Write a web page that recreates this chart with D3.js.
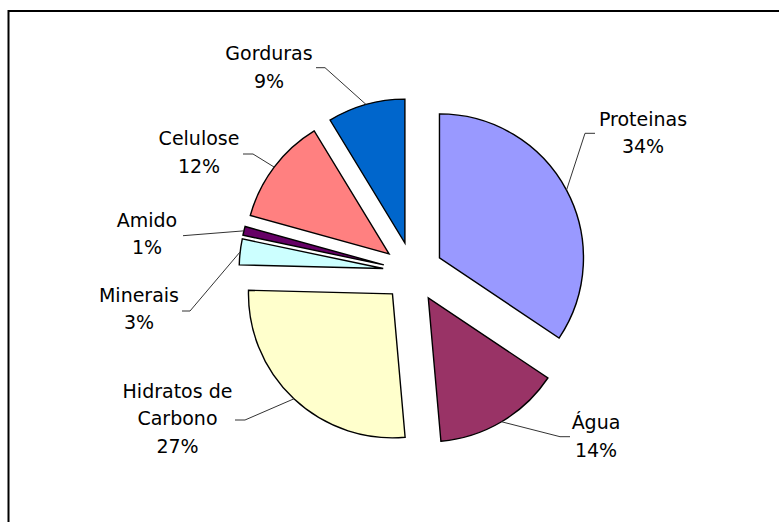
<!DOCTYPE html>
<html>
<head>
<meta charset="utf-8">
<script src="https://cdn.jsdelivr.net/npm/d3@7"></script>
<style>
  body { margin: 0; background: #fff; }
  text { font-family: "DejaVu Sans", Verdana, sans-serif; font-size: 19px; fill: #000; }
</style>
</head>
<body>
<svg id="piechart" width="779" height="522"></svg>
<script>
// data (shares)
let categories = ["Proteinas", "Água", "Hidratos de Carbono", "Minerais", "Amido", "Celulose", "Gorduras"];
let values = [34.4, 14.2, 26.8, 2.9, 1.0, 12.0, 8.7];
let colors = ["#9999FF", "#993366", "#FFFFCC", "#CCFFFF", "#660066", "#FF8080", "#0066CC"];
let labelLines = [["Proteinas"], ["Água"], ["Hidratos de", "Carbono"], ["Minerais"], ["Amido"], ["Celulose"], ["Gorduras"]];

// label placement: text centre x, first baseline y, stub start, stub end
let labelPos = [
  {x: 643, y: 125.7, s: [595, 133.3], e: [585, 133.3]},
  {x: 596, y: 429.3, s: [570, 436.7], e: [560, 436.7]},
  {x: 177.5, y: 397.7, s: [235, 420], e: [245, 420]},
  {x: 139, y: 301.7, s: [182, 311], e: [190, 311]},
  {x: 147, y: 226.7, s: [183, 235.7], e: [183, 235.7]},
  {x: 199, y: 145, s: [243, 154], e: [253, 154]},
  {x: 269, y: 60, s: [316, 67.7], e: [325, 67.7]}
];

function drawPie(){
  let svg = d3.select("#piechart"),
      cx = 413, cy = 272,
      radius = 144,
      explode = 30,
      lineH = 27.7;

  // frame
  svg.append("rect")
    .attr("x", 8.5).attr("y", 11)
    .attr("width", 900).attr("height", 700)
    .attr("fill", "none")
    .attr("stroke", "#000")
    .attr("stroke-width", 2);

  let total = d3.sum(values);
  let pie = d3.pie().sort(null).value(d => d);
  let arcs = pie(values);
  let arc = d3.arc().innerRadius(0).outerRadius(radius);

  let g = svg.append("g").attr("transform", "translate(" + cx + "," + cy + ")");

  function offset(d) {
    let m = (d.startAngle + d.endAngle) / 2;
    return [explode * Math.sin(m), -explode * Math.cos(m)];
  }

  g.selectAll(".slice")
    .data(arcs)
    .enter()
    .append("path")
    .attr("class", "slice")
    .attr("transform", d => "translate(" + offset(d) + ")")
    .attr("d", arc)
    .attr("fill", (d, i) => colors[i])
    .attr("stroke", "#000")
    .attr("stroke-width", 1.4)
    .attr("stroke-linejoin", "miter");

  // leader lines
  svg.selectAll(".leader")
    .data(arcs)
    .enter()
    .append("polyline")
    .attr("class", "leader")
    .attr("fill", "none")
    .attr("stroke", "#333")
    .attr("stroke-width", 1)
    .attr("points", (d, i) => {
      let m = (d.startAngle + d.endAngle) / 2,
          o = offset(d),
          px = cx + o[0] + radius * Math.sin(m),
          py = cy + o[1] - radius * Math.cos(m),
          p = labelPos[i];
      return [p.s, p.e, [px, py]].map(q => q.join(",")).join(" ");
    });

  // labels
  let labels = svg.selectAll(".label")
    .data(arcs)
    .enter()
    .append("text")
    .attr("class", "label")
    .attr("text-anchor", "middle");

  labels.each(function(d, i) {
    let t = d3.select(this),
        lines = labelLines[i].concat([Math.round(values[i] / total * 100) + "%"]);
    lines.forEach((s, k) => {
      t.append("tspan")
        .attr("x", labelPos[i].x)
        .attr("y", labelPos[i].y + k * lineH)
        .text(s);
    });
  });
}

drawPie();
</script>
</body>
</html>
